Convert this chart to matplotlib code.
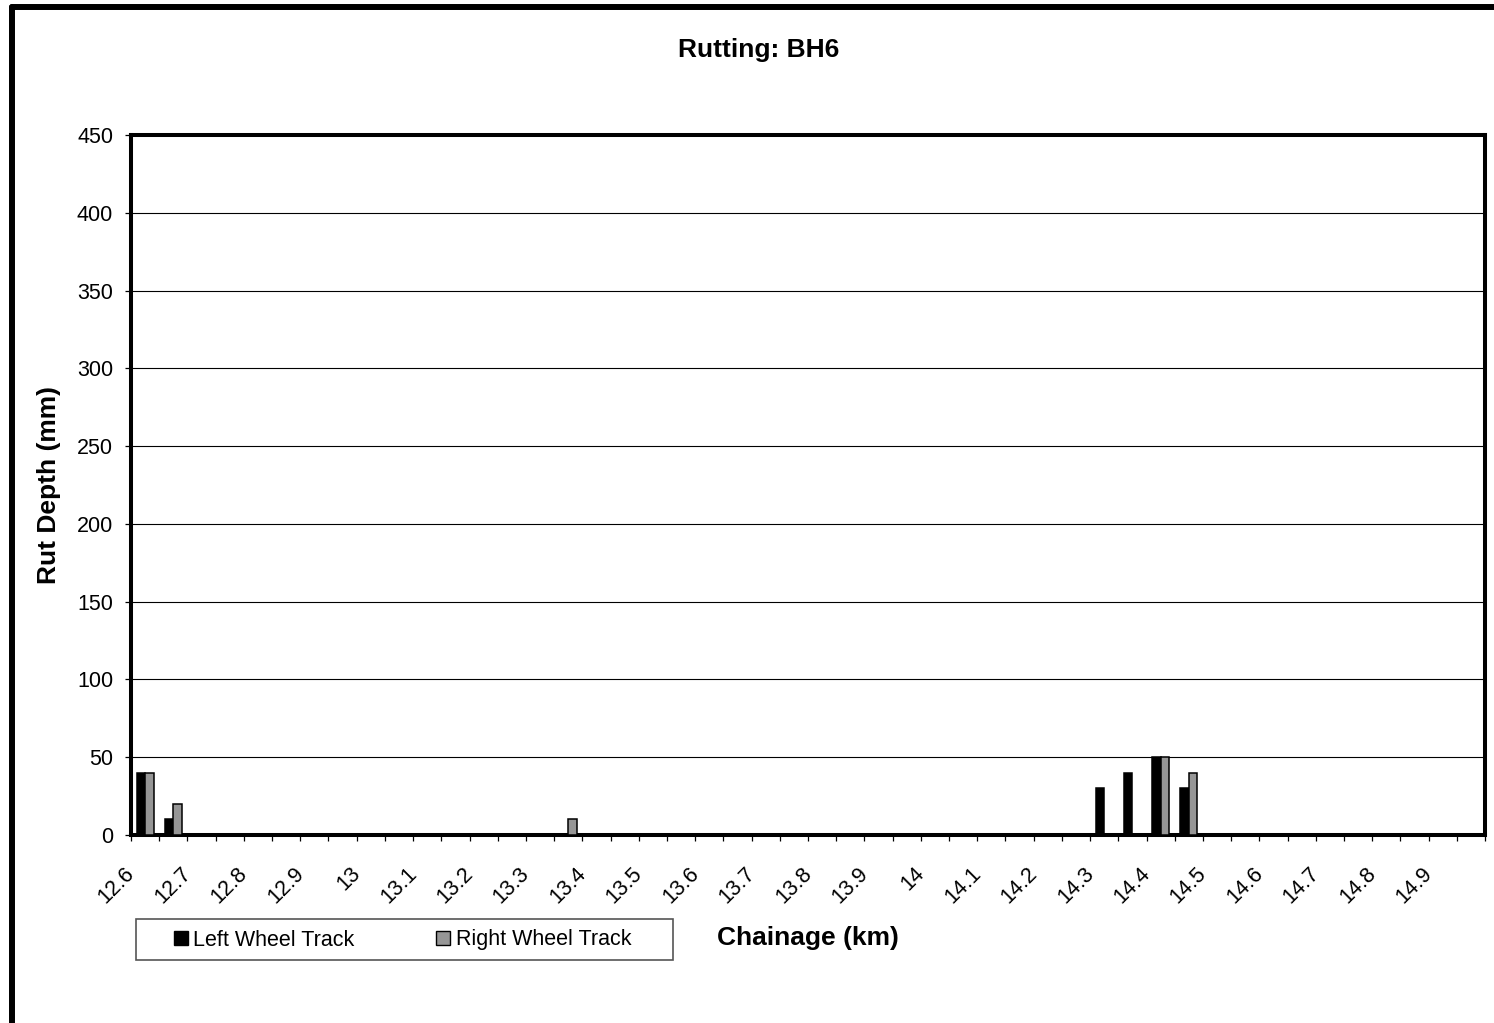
import numpy as np
import matplotlib
matplotlib.use("Agg")
from matplotlib import pyplot as plt
from matplotlib.patches import Rectangle
from matplotlib.lines import Line2D

plt.rcParams['font.family'] = ['Liberation Sans', 'DejaVu Sans']

# chainage categories (km), one bar pair per 50 m
chainage = [12.6, 12.65, 12.7, 12.75, 12.8, 12.85, 12.9, 12.95,
            13.0, 13.05, 13.1, 13.15, 13.2, 13.25, 13.3, 13.35,
            13.4, 13.45, 13.5, 13.55, 13.6, 13.65, 13.7, 13.75,
            13.8, 13.85, 13.9, 13.95, 14.0, 14.05, 14.1, 14.15,
            14.2, 14.25, 14.3, 14.35, 14.4, 14.45, 14.5, 14.55,
            14.6, 14.65, 14.7, 14.75, 14.8, 14.85, 14.9, 14.95]

# rut depth (mm)
left_track = [40, 10, 0, 0, 0, 0, 0, 0,
              0, 0, 0, 0, 0, 0, 0, 0,
              0, 0, 0, 0, 0, 0, 0, 0,
              0, 0, 0, 0, 0, 0, 0, 0,
              0, 0, 30, 40, 50, 30, 0, 0,
              0, 0, 0, 0, 0, 0, 0, 0]
right_track = [40, 20, 0, 0, 0, 0, 0, 0,
               0, 0, 0, 0, 0, 0, 0, 10,
               0, 0, 0, 0, 0, 0, 0, 0,
               0, 0, 0, 0, 0, 0, 0, 0,
               0, 0, 0, 0, 50, 40, 0, 0,
               0, 0, 0, 0, 0, 0, 0, 0]

W, H = 1494, 1023
fig = plt.figure(figsize=(W / 100, H / 100), dpi=100)
fig.patch.set_facecolor('white')

ax = fig.add_axes([131 / W, 1 - 835 / H, (1485 - 131) / W, (835 - 135) / H])

n = len(chainage)
idx = np.arange(n)
bw = 0.3
ax.bar(idx - bw / 2, left_track, width=bw, color='black', edgecolor='black',
       linewidth=1.1, zorder=3, label='Left Wheel Track')
ax.bar(idx + bw / 2, right_track, width=bw, color='#969696', edgecolor='black',
       linewidth=1.1, zorder=3, label='Right Wheel Track')

ax.set_xlim(-0.5, n - 0.5)
ax.set_ylim(0, 450)
ax.set_yticks(range(0, 451, 50))
ax.yaxis.grid(True, color='black', linewidth=0.8)
ax.set_axisbelow(True)

# tick marks between categories, label every second category
ax.set_xticks(np.arange(-0.5, n, 1), minor=True)
lab_idx = idx[::2]
ax.set_xticks(lab_idx - 0.22)
ax.set_xticklabels(['%g' % chainage[i] for i in lab_idx], rotation=45, ha='right')
ax.tick_params(axis='x', which='major', length=0, pad=20, labelsize=15.5)
ax.tick_params(axis='x', which='minor', length=4.3, width=0.9, direction='out')
ax.tick_params(axis='y', length=4.3, width=0.9, direction='out', pad=8.5, labelsize=15.5)

for s in ax.spines.values():
    s.set_linewidth(2.9)
    s.set_color('black')

fig.text(759 / W, 1 - 50 / H, 'Rutting: BH6', fontsize=19, fontweight='bold',
         ha='center', va='center')
fig.text(49 / W, 1 - 485 / H, 'Rut Depth (mm)', fontsize=19, fontweight='bold',
         ha='center', va='center', rotation=90)
fig.text(808 / W, 1 - 938 / H, 'Chainage (km)', fontsize=19, fontweight='bold',
         ha='center', va='center')

# legend box
fig.patches.append(Rectangle((136 / W, 1 - 960 / H), (673 - 136) / W, 41 / H,
                             transform=fig.transFigure, facecolor='white',
                             edgecolor='#555555', linewidth=1.2, zorder=1))
handles = [Rectangle((0, 0), 1, 1, facecolor='black', edgecolor='black', linewidth=1.0),
           Rectangle((0, 0), 1, 1, facecolor='#969696', edgecolor='black', linewidth=1.0)]
leg = fig.legend(handles, ['Left Wheel Track', 'Right Wheel Track'], ncol=2,
                 loc='center left', bbox_to_anchor=(174 / W, 1 - 940 / H),
                 frameon=False, fontsize=15.5, handlelength=0.65, handleheight=0.65,
                 handletextpad=0.25, columnspacing=3.8, borderpad=0, borderaxespad=0)
leg.set_zorder(5)

# outer chart border (left and top visible)
fig.add_artist(Line2D([12 / W, 12 / W], [0, 1 - 7 / H], transform=fig.transFigure,
                      color='black', linewidth=4.3, solid_capstyle='round'))
fig.add_artist(Line2D([12 / W, 1], [1 - 7 / H, 1 - 7 / H], transform=fig.transFigure,
                      color='black', linewidth=4.3, solid_capstyle='round'))

fig.savefig('out.png', dpi=100)
